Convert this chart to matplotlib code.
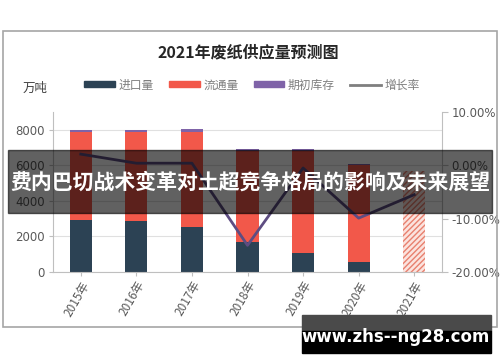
import matplotlib
matplotlib.use("Agg")
import matplotlib.pyplot as plt
import numpy as np
from matplotlib.patches import Rectangle, Patch
from matplotlib.lines import Line2D

plt.rcParams['font.family'] = ['Noto Sans CJK SC', 'DejaVu Sans']

years = ["2015年", "2016年", "2017年", "2018年", "2019年", "2020年", "2021年"]
import_vol = [2900, 2850, 2550, 1700, 1050, 560, 0]
circulation = [5000, 5050, 5320, 5120, 5770, 5460, 0]
inventory = [100, 80, 180, 80, 80, 80, 0]
forecast = [0, 0, 0, 0, 0, 0, 5700]
growth = [2.1, 0.4, 0.4, -15.0, -0.5, -9.9, -5.5]  # percent

left_ticks = [0, 2000, 4000, 6000, 8000]
right_ticks = [-20, -10, 0, 10]

W, H = 500, 362
fig = plt.figure(figsize=(W / 100, H / 100), dpi=100)

def fx(px):
    return px / W

def fy(py):
    return 1 - py / H

ax = fig.add_axes([fx(53), fy(272), fx(442) - fx(53), fy(112) - fy(272)])
x = np.arange(len(years))
bw = 0.4
c_imp = '#2c4254'
c_cir = '#f2584a'
c_inv = '#7f63a8'
c_line = '#5e4d82'
gray = '#7f7f7f'

b0 = np.array(import_vol)
b1 = b0 + np.array(circulation)
ax.bar(x, import_vol, bw, color=c_imp, zorder=2)
ax.bar(x, circulation, bw, bottom=b0, color=c_cir, zorder=2)
ax.bar(x, inventory, bw, bottom=b1, color=c_inv, zorder=2)
ax.bar(x, forecast, bw, color='#fbe3de', edgecolor='#e8806e', hatch='//////',
       linewidth=0, zorder=2)

ax.set_xlim(-0.5, len(years) - 0.5)
ax.set_ylim(0, 9000)
ax.set_yticks(left_ticks)
ax.set_yticklabels([str(v) for v in left_ticks], color='#595959', fontsize=8.5,
                   family=['DejaVu Sans'])
ax.grid(axis='y', color='#e0e0e0', linewidth=0.8, zorder=0)
ax.set_axisbelow(True)
ax.set_xticks(x)
ax.set_xticklabels(years, rotation=60, ha='right', rotation_mode='anchor',
                   color='#595959', fontsize=8.5)
ax.tick_params(axis='x', length=3, color='#bfbfbf', pad=2)
ax.tick_params(axis='y', length=3, color='#bfbfbf', pad=3)
for s in ['top', 'right']:
    ax.spines[s].set_visible(False)
ax.spines['left'].set_color('#bfbfbf')
ax.spines['bottom'].set_color('#bfbfbf')

ax2 = ax.twinx()
ax2.plot(x, growth, color=c_line, linewidth=2, zorder=3)
ax2.set_ylim(-20, 10)
ax2.set_yticks(right_ticks)
ax2.set_yticklabels([f"{v:.2f}%" for v in right_ticks], color='#595959',
                    fontsize=8.5, family=['DejaVu Sans'])
ax2.tick_params(axis='y', length=4, color='#bfbfbf', pad=3)
for s in ['top', 'left', 'bottom']:
    ax2.spines[s].set_visible(False)
ax2.spines['right'].set_color('#bfbfbf')

# frame
fig.patches.append(Rectangle((fx(3), fy(327)), fx(494), fy(31) - fy(327),
                             transform=fig.transFigure, fill=False,
                             edgecolor='#a6a6a6', linewidth=1.2, zorder=0))

fig.text(fx(248), fy(52), "2021年废纸供应量预测图", ha='center', va='center',
         fontsize=11.5, fontweight='bold', color='#262626')
fig.text(fx(35), fy(88), "万吨", ha='center', va='center', fontsize=9,
         color='#404040')

handles = [Patch(color=c_imp), Patch(color=c_cir), Patch(color=c_inv),
           Line2D([0], [0], color=gray, lw=2)]
labels = ["进口量", "流通量", "期初库存", "增长率"]
fig.legend(handles, labels, ncol=4, loc='center', bbox_to_anchor=(fx(252), fy(85)),
           frameon=False, fontsize=8.5, labelcolor=gray, handlelength=2.6,
           handleheight=0.45, handletextpad=0.3, columnspacing=1.3)

# banner overlay
fig.patches.append(Rectangle((fx(8), fy(213)), fx(484), fy(150) - fy(213),
                             transform=fig.transFigure, color='black', alpha=0.62,
                             zorder=10))
fig.text(fx(250), fy(182), "费内巴切战术变革对土超竞争格局的影响及未来展望",
         ha='center', va='center', fontsize=15, fontweight='bold', color='white',
         zorder=11)

# watermark
fig.patches.append(Rectangle((fx(302), fy(331)), fx(189), fy(315) - fy(331),
                             transform=fig.transFigure, color='#4a4a4a', zorder=10))
fig.patches.append(Rectangle((fx(302), fy(353)), fx(189), fy(331) - fy(353),
                             transform=fig.transFigure, color='black', zorder=10))
fig.text(fx(396), fy(337), "www.zhs--ng28.com", ha='center', va='center',
         fontsize=12, fontweight='bold', color='white', zorder=11,
         family=['DejaVu Sans'])

fig.savefig("out.png", dpi=100)
